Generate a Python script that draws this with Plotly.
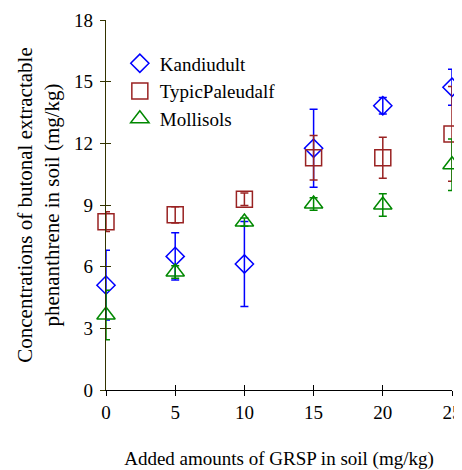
import plotly.graph_objects as go

grsp = [0, 5, 10, 15, 20, 25]

kandiudult = [5.1, 6.5, 6.13, 11.76, 13.83, 14.73]
kandiudult_err = [1.7, 1.15, 2.07, 1.9, 0.4, 0.88]

paleudalf = [8.19, 8.52, 9.28, 11.3, 11.3, 12.46]
paleudalf_err = [0.48, 0.4, 0.3, 1.08, 1.0, 2.3]

mollisols = [3.65, 5.74, 8.17, 9.05, 9.0, 10.96]
mollisols_err = [1.2, 0.3, 0.2, 0.3, 0.55, 1.25]

x_ticks = [0, 5, 10, 15, 20, 25]
y_ticks = [0, 3, 6, 9, 12, 15, 18]

FONT = "Liberation Serif, Times New Roman, serif"

series = [
    ("Kandiudult", kandiudult, kandiudult_err, "#0000ff", "diamond-open", 14),
    ("TypicPaleudalf", paleudalf, paleudalf_err, "#992222", "square-open", 16),
    ("Mollisols", mollisols, mollisols_err, "#008800", "triangle-up-open", 16),
]

fig = go.Figure()
for i, (name, vals, errs, color, sym, size) in enumerate(series):
    fig.add_trace(go.Scatter(
        x=grsp, y=vals, name=name, mode="markers",
        legendgroup=f"g{i}",
        marker=dict(symbol=sym, size=size, color=color, line=dict(width=1.5, color=color)),
        error_y=dict(type="data", array=errs, visible=True, color=color, thickness=1.5, width=4),
        cliponaxis=False,
    ))

# helper trace for inner ticks (crossing tick marks)
fig.add_trace(go.Scatter(x=[None], y=[None], xaxis="x2", yaxis="y2", showlegend=False, hoverinfo="skip"))

fig.update_layout(
    width=462, height=462,
    margin=dict(l=98, r=18, t=12, b=80),
    paper_bgcolor="white", plot_bgcolor="white",
    font=dict(family=FONT, size=19, color="black"),
    showlegend=True,
    legend=dict(x=0.04, y=0.934, xanchor="left", yanchor="top",
                bgcolor="rgba(0,0,0,0)", font=dict(family=FONT, size=19),
                tracegroupgap=0, itemwidth=30, traceorder="grouped"),
    xaxis=dict(range=[0, 25], tickvals=x_ticks, ticks="outside", ticklen=5, tickwidth=1.2,
               tickcolor="black", showline=True, linecolor="black", linewidth=1.2,
               showgrid=False, zeroline=False, tickfont=dict(size=19), automargin=False,
               title=dict(text="Added amounts of GRSP in soil (mg/kg)", standoff=30, font=dict(size=19))),
    yaxis=dict(range=[0, 18], tickvals=y_ticks, ticks="outside", ticklen=5, tickwidth=1.2,
               tickcolor="#333300", showline=True, linecolor="#333300", linewidth=1.2,
               showgrid=False, zeroline=False, tickfont=dict(size=19), automargin=False,
               ticklabelstandoff=3,
               title=dict(text="Concentrations of butonal extractable<br>phenanthrene in soil (mg/kg)",
                          standoff=8, font=dict(size=21))),
    xaxis2=dict(range=[0, 25], tickvals=x_ticks, ticks="inside", ticklen=5, tickwidth=1.2,
                tickcolor="black", showticklabels=False, showline=False, showgrid=False,
                zeroline=False, overlaying="x", anchor="y2", automargin=False),
    yaxis2=dict(range=[0, 18], tickvals=y_ticks, ticks="inside", ticklen=5, tickwidth=1.2,
                tickcolor="#333300", showticklabels=False, showline=False, showgrid=False,
                zeroline=False, overlaying="y", anchor="x2", side="left", automargin=False),
)

fig.write_html("out.html")
